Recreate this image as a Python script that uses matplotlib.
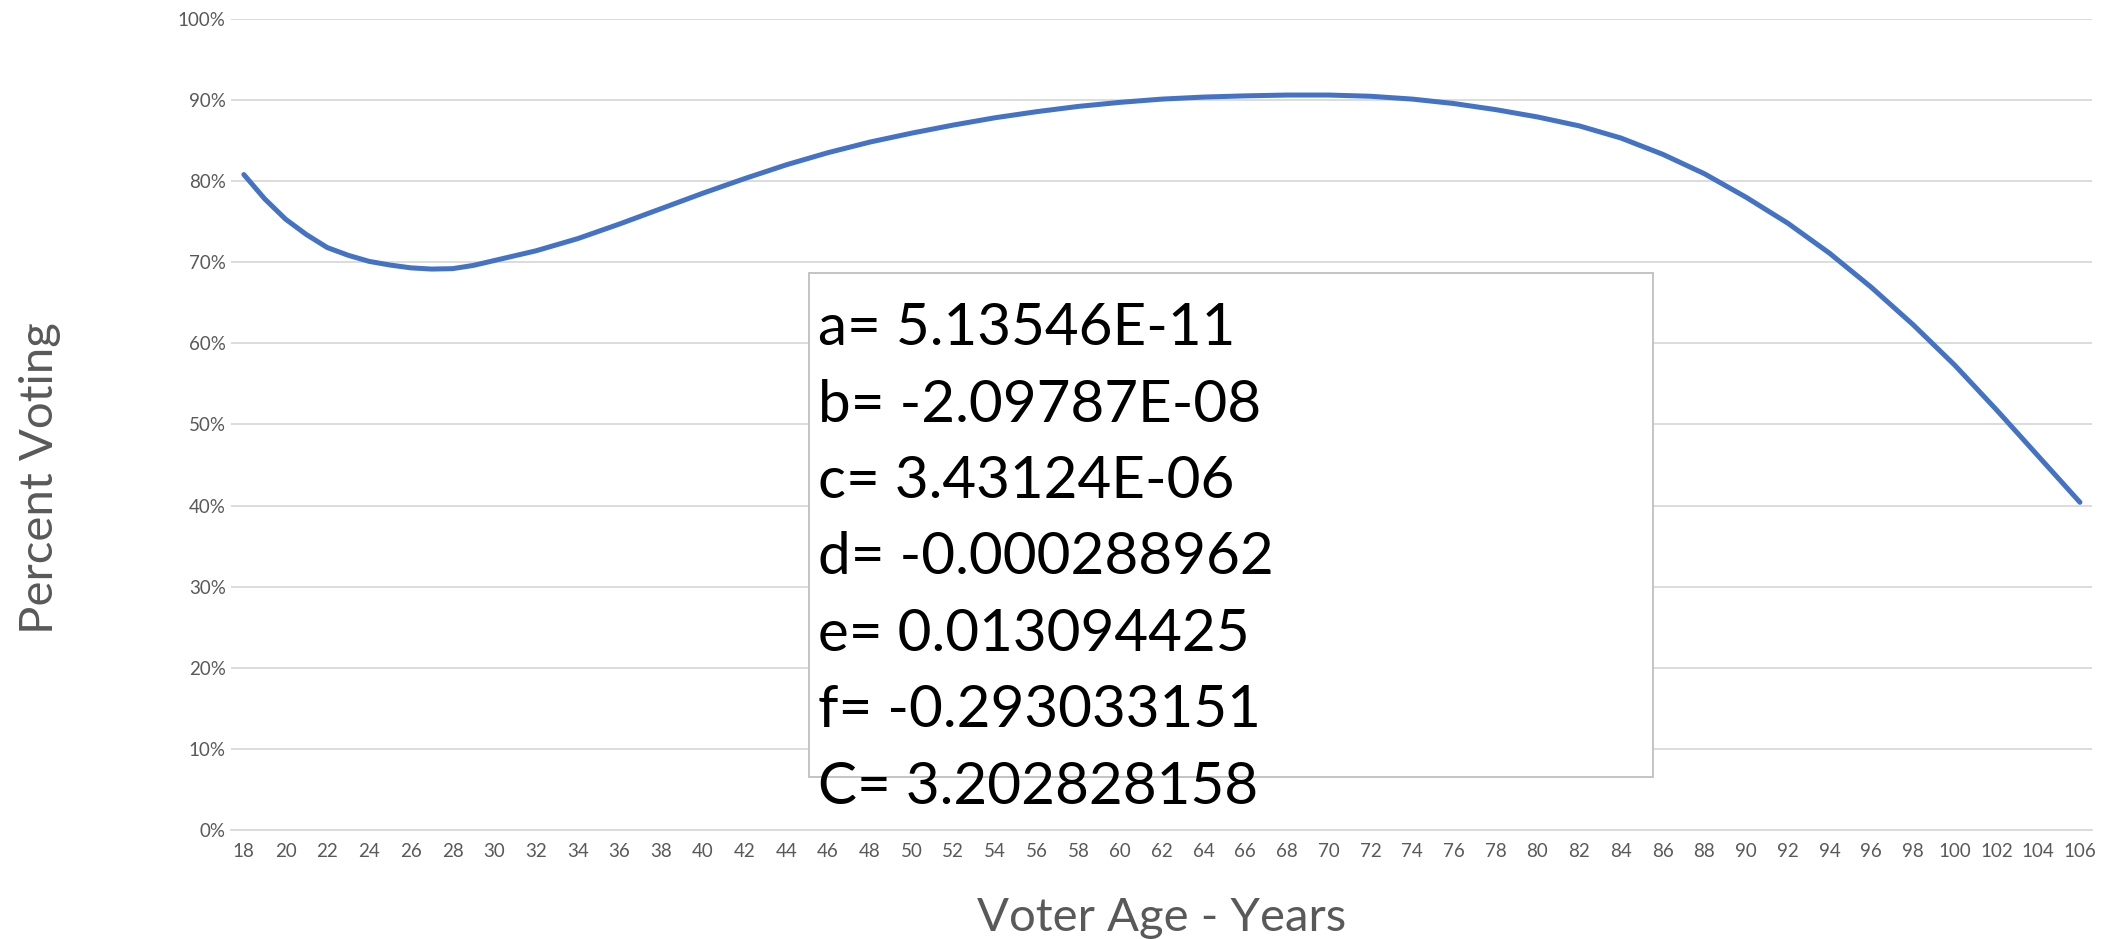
import matplotlib.pyplot as plt
from matplotlib.patches import Rectangle
from matplotlib.ticker import PercentFormatter

# voter age and percent voting
# (odd ages added near the start where the curve bends sharply)
ages = [18, 19, 20, 21, 22, 23, 24, 25, 26, 27, 28, 29, 30, 32, 34, 36, 38,
        40, 42, 44, 46, 48, 50, 52, 54, 56, 58, 60, 62, 64, 66, 68, 70, 72,
        74, 76, 78, 80, 82, 84, 86, 88, 90, 92, 94, 96, 98, 100, 102, 104,
        106]
pct_voting = [80.8, 77.8, 75.3, 73.4, 71.8, 70.85, 70.1, 69.65, 69.3, 69.15,
              69.2, 69.6, 70.2, 71.4, 72.9, 74.7, 76.6, 78.5, 80.3, 82.0,
              83.5, 84.8, 85.9, 86.9, 87.8, 88.55, 89.2, 89.7, 90.1, 90.35,
              90.5, 90.6, 90.6, 90.45, 90.1, 89.55, 88.8, 87.9, 86.8, 85.3,
              83.3, 80.9, 78.0, 74.8, 71.1, 66.9, 62.3, 57.3, 51.8, 46.1,
              40.4]
tick_ages = list(range(18, 107, 2))

coef_lines = ["a= 5.13546E-11", "b= -2.09787E-08", "c= 3.43124E-06",
              "d= -0.000288962", "e= 0.013094425", "f= -0.293033151",
              "C= 3.202828158"]

plt.rcParams['font.family'] = ['Lato', 'DejaVu Sans']
grey = '#595959'

fig = plt.figure(figsize=(21.03, 9.39), dpi=100)
ax = fig.add_axes([0.110, 0.116, 0.885, 0.864])

ax.plot(ages, pct_voting, color='#4472C4', linewidth=3.6,
        solid_capstyle='round', solid_joinstyle='round', zorder=3)

ax.set_xlim(17.4, 106.6)
ax.set_ylim(0, 100)
ax.set_yticks(range(0, 101, 10))
ax.yaxis.set_major_formatter(PercentFormatter(decimals=0))
ax.set_xticks(tick_ages)
ax.set_xticklabels([str(a) for a in tick_ages])
ax.grid(axis='y', color='#d9d9d9', linewidth=1.3)
ax.set_axisbelow(True)
for s in ax.spines.values():
    s.set_visible(False)
ax.spines['bottom'].set_visible(True)
ax.spines['bottom'].set_color('#d9d9d9')
ax.spines['bottom'].set_linewidth(1.3)
ax.tick_params(axis='both', length=0, labelsize=13.5, labelcolor=grey)
ax.tick_params(axis='x', pad=9)
ax.tick_params(axis='y', pad=4)

fig.text(0.5525, 0.022, 'Voter Age - Years', ha='center', va='center',
         fontsize=34, color=grey)
fig.text(0.019, 0.491, 'Percent Voting', ha='center', va='center',
         rotation=90, fontsize=34, color=grey)

# coefficient text box
box = Rectangle((0.3845, 0.172), 0.4015, 0.537, transform=fig.transFigure,
                facecolor='white', edgecolor='#bfbfbf', linewidth=1.3,
                zorder=5)
fig.patches.append(box)
y0 = 1 - 244 / 697
dy = 56.7 / 697
for i, line in enumerate(coef_lines):
    fig.text(0.389, y0 - i * dy, line, ha='left', va='center',
             fontsize=42, color='black', zorder=6)

fig.savefig('out.png', dpi=100)
